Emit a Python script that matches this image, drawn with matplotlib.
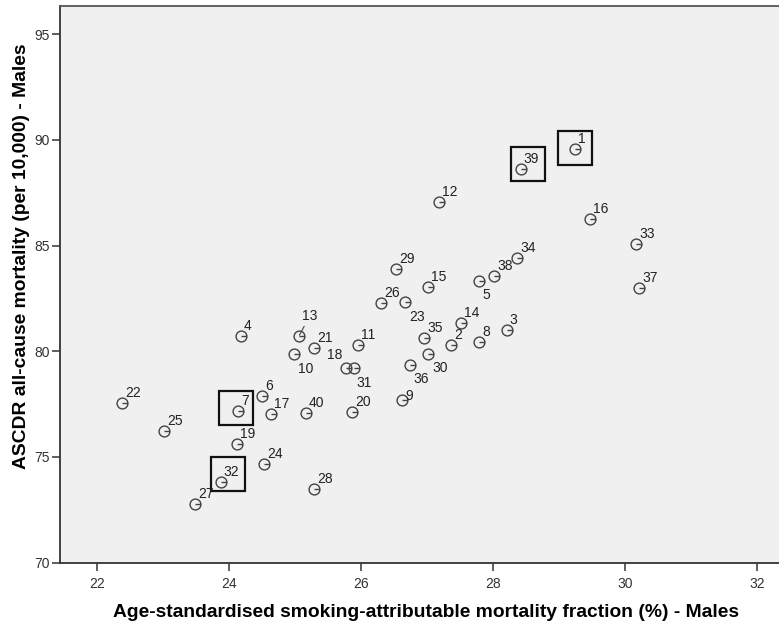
import matplotlib
matplotlib.use("Agg")
import matplotlib.pyplot as plt
import matplotlib.transforms as mtransforms
from matplotlib.path import Path
import numpy as np

# area id, smoking-attributable fraction (%), ASCDR all-cause mortality
ids = list(range(1, 41))
saf = [29.25, 27.37, 28.21, 24.18, 27.79, 24.50, 24.14, 27.79, 26.62, 24.99,
       25.96, 27.19, 25.06, 27.52, 27.01, 29.47, 24.64, 25.78, 24.12, 25.87,
       25.29, 22.38, 26.67, 24.54, 23.02, 26.31, 23.49, 25.29, 26.54, 27.02,
       25.90, 23.88, 30.17, 28.37, 26.96, 26.74, 30.22, 28.02, 28.42, 25.17]
ascdr = [89.56, 80.32, 81.00, 80.71, 83.32, 77.87, 77.19, 80.44, 77.71, 79.89,
         80.29, 87.06, 80.70, 81.36, 83.06, 86.27, 77.04, 79.20, 75.63, 77.13,
         80.17, 77.57, 82.35, 74.66, 76.23, 82.30, 72.76, 73.50, 83.90, 79.86,
         79.20, 73.83, 85.05, 84.43, 80.62, 79.34, 82.97, 83.54, 88.63, 77.07]
boxed = [1, 39, 7, 32]

xticks = [22, 24, 26, 28, 30, 32]
yticks = [70, 75, 80, 85, 90, 95]

# label placement (pixels, ha, va) where it differs from default
label_pos = {
    10: (12, -8, 'center', 'top'),
    18: (-12, 6, 'center', 'bottom'),
    31: (10, -8, 'center', 'top'),
    23: (12, -8, 'center', 'top'),
    5: (7, -7, 'center', 'top'),
    30: (12, -7, 'center', 'top'),
    36: (11, -7, 'center', 'top'),
    9: (4, 4, 'left', 'center'),
}
box_off = {1: (0, 1), 39: (7, 5), 7: (-2, 3), 32: (7, 8)}

fig = plt.figure(figsize=(7.79, 6.25), dpi=100)
ax = fig.add_axes([60 / 779, (625 - 562.7) / 625, 719 / 779, 556.7 / 625])
ax.set_facecolor('#f0f0f0')

ax.set_xlim(21.444, 32.333)
ax.set_ylim(70, 96.33)

# circle with a short stroke, like the SPSS marker
circ = Path.unit_circle()
verts = np.concatenate([circ.vertices, [[0, 0], [1, 0]]])
codes = np.concatenate([circ.codes, [Path.MOVETO, Path.LINETO]])
gmark = Path(verts, codes)
ax.plot(saf, ascdr, linestyle='none', marker=gmark, markersize=7.8,
        markerfacecolor='none', markeredgecolor='#444444', markeredgewidth=1.0)

for i, x, y in zip(ids, saf, ascdr):
    dx, dy, ha, va = label_pos.get(i, (3, 3, 'left', 'bottom'))
    if i == 13:
        ax.annotate(str(i), (x, y), xytext=(3, 13), textcoords='offset pixels',
                    ha='left', va='bottom', fontsize=10, color='#222222',
                    family='Liberation Sans',
                    arrowprops=dict(arrowstyle='-', color='#444444', lw=0.8,
                                    shrinkA=0, shrinkB=1))
        continue
    ax.annotate(str(i), (x, y), xytext=(dx, dy), textcoords='offset pixels',
                ha=ha, va=va, fontsize=10, color='#222222',
                family='Liberation Sans')

for i in boxed:
    k = ids.index(i)
    tr = mtransforms.offset_copy(ax.transData, fig=fig, x=box_off[i][0],
                                 y=box_off[i][1], units='dots')
    ax.plot([saf[k]], [ascdr[k]], marker='s', markersize=24, linestyle='none',
            markerfacecolor='none', markeredgecolor='#111111',
            markeredgewidth=1.6, transform=tr)

for s in ['left', 'bottom']:
    ax.spines[s].set_color('#333333')
    ax.spines[s].set_linewidth(1.3)
ax.spines['top'].set_color('#555555')
ax.spines['top'].set_linewidth(1.3)
ax.spines['right'].set_visible(False)

ax.set_xticks(xticks)
ax.set_yticks(yticks)
ax.tick_params(direction='out', length=6, width=1.1, color='#333333',
               labelsize=10, labelcolor='#333333')
ax.tick_params(axis='x', pad=4)
ax.tick_params(axis='y', pad=1.5)
for lab in ax.get_xticklabels() + ax.get_yticklabels():
    lab.set_family('Liberation Sans')

ax.set_xlabel('Age-standardised smoking-attributable mortality fraction (%) - Males',
              fontsize=13.9, fontweight='bold', family='Liberation Sans')
ax.set_ylabel('ASCDR all-cause mortality (per 10,000) - Males',
              fontsize=13.9, fontweight='bold', family='Liberation Sans')
ax.xaxis.set_label_coords(0.5097, -0.0886)
ax.xaxis.label.set_va('center')
ax.yaxis.set_label_coords(-0.0535, 0.551)
ax.yaxis.label.set_va('center')

fig.savefig('out.png', dpi=100, facecolor='white')
